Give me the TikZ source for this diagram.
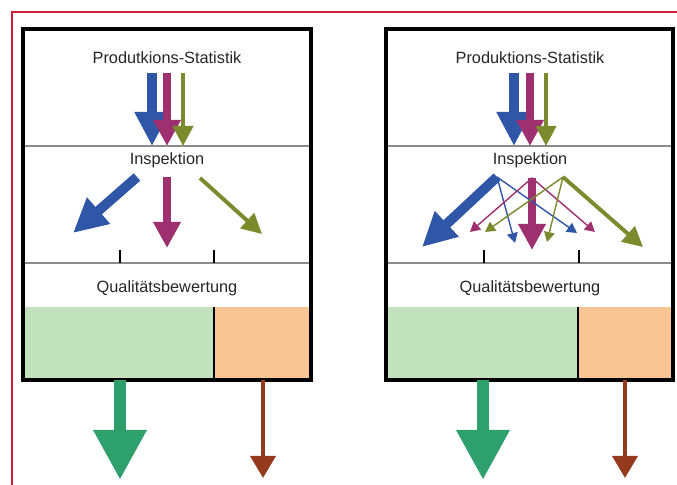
\documentclass[tikz,border=0pt]{standalone}
\usepackage{fontspec}
\setmainfont{Liberation Sans}
\usetikzlibrary{arrows.meta,positioning}

\definecolor{cblue}{RGB}{48,86,168}
\definecolor{cmag}{RGB}{158,48,112}
\definecolor{colive}{RGB}{122,138,44}
\definecolor{cgreen}{RGB}{46,160,110}
\definecolor{cbrown}{RGB}{150,58,30}
\definecolor{lgreen}{RGB}{194,226,190}
\definecolor{lorange}{RGB}{250,197,148}
\definecolor{cred}{RGB}{210,30,60}

\begin{document}
\begin{tikzpicture}[
    x=0.025cm, y=-0.025cm,
    lbl/.style={font=\fontsize{11.6}{13}\selectfont, text=black!85, inner sep=1pt},
    divider/.style={draw=black!45, line width=1.1pt},
    boxline/.style={draw=black, line width=2.2pt},
    tick/.style={draw=black, line width=1pt},
    wide/.style={line width=7pt, -{Triangle[width=0.82cm, length=0.85cm]}},
    mid/.style={line width=5pt, -{Triangle[width=0.65cm, length=0.65cm]}},
    slim/.style={line width=2.8pt, -{Triangle[width=0.5cm, length=0.5cm]}},
    hair/.style={line width=1pt, -{Triangle[width=0.27cm, length=0.25cm]}},
    outgood/.style={cgreen, line width=9pt, -{Triangle[width=1.25cm, length=1.25cm]}},
    outbad/.style={cbrown, line width=3pt, -{Triangle[width=0.62cm, length=0.55cm]}}
]
    \useasboundingbox (0,0) rectangle (677,485);
    \draw[cred, line width=1.5pt] (12,485) -- (12,12) -- (677,12);

    % left panel
    \fill[lgreen]  (23,307)  rectangle (214,380);
    \fill[lorange] (214,307) rectangle (311,380);
    \draw[line width=1pt] (214,307) -- (214,380);
    \draw[divider] (23,146) -- (311,146);
    \draw[divider] (23,263) -- (311,263);
    \draw[tick] (120,250) -- (120,263);
    \draw[tick] (214,250) -- (214,263);
    \draw[boxline] (23,29) rectangle (311,380);

    \node[lbl] (stat1) at (167,58)  {Produtkions-Statistik};
    \node[lbl] (insp1) at (167,160) {Inspektion};
    \node[lbl] (qual1) at (167,288) {Qualitätsbewertung};

    \coordinate (s1a) at (152,73);  \coordinate (t1a) at (152,146);
    \coordinate (s1b) at (167,73);  \coordinate (t1b) at (167,146);
    \coordinate (s1c) at (183,73);  \coordinate (t1c) at (183,146);
    \draw[wide, cblue]  (s1a) -- (t1a);
    \draw[mid, cmag]    (s1b) -- (t1b);
    \draw[slim, colive] (s1c) -- (t1c);

    \coordinate (o1a) at (137,177); \coordinate (d1a) at (73,233);
    \coordinate (o1b) at (167,177); \coordinate (d1b) at (167,248);
    \coordinate (o1c) at (200,178); \coordinate (d1c) at (262,234);
    \draw[wide, cblue]  (o1a) -- (d1a);
    \draw[mid, cmag]    (o1b) -- (d1b);
    \draw[slim, colive] (o1c) -- (d1c);

    \coordinate (g1) at (120,380); \coordinate (g1e) at (120,480);
    \coordinate (r1) at (263,380); \coordinate (r1e) at (263,478);
    \draw[outgood] (g1) -- (g1e);
    \draw[outbad]  (r1) -- (r1e);

    % right panel
    \fill[lgreen]  (386,307) rectangle (578,380);
    \fill[lorange] (578,307) rectangle (673,380);
    \draw[line width=1pt] (578,307) -- (578,380);
    \draw[divider] (386,146) -- (673,146);
    \draw[divider] (386,263) -- (673,263);
    \draw[tick] (484,250) -- (484,263);
    \draw[tick] (579,250) -- (579,263);
    \draw[boxline] (386,29) rectangle (673,380);

    \node[lbl] (stat2) at (530,58)  {Produktions-Statistik};
    \node[lbl] (insp2) at (530,160) {Inspektion};
    \node[lbl] (qual2) at (530,288) {Qualitätsbewertung};

    \coordinate (s2a) at (514,73);  \coordinate (t2a) at (514,146);
    \coordinate (s2b) at (530,73);  \coordinate (t2b) at (530,146);
    \coordinate (s2c) at (546,73);  \coordinate (t2c) at (546,146);
    \draw[wide, cblue]  (s2a) -- (t2a);
    \draw[mid, cmag]    (s2b) -- (t2b);
    \draw[slim, colive] (s2c) -- (t2c);

    % split flows
    \coordinate (o2a) at (497,177);
    \coordinate (o2b) at (532,178);
    \coordinate (o2c) at (563,177);
    \coordinate (d2a) at (422,247); \coordinate (d2b) at (532,250); \coordinate (d2c) at (643,247);
    \coordinate (e2a) at (515,243); \coordinate (f2a) at (577,233);
    \coordinate (e2b) at (470,232); \coordinate (f2b) at (595,232);
    \coordinate (e2c) at (485,232); \coordinate (f2c) at (547,242);
    \draw[wide, cblue]  (o2a) -- (d2a);
    \draw[mid, cmag]    (o2b) -- (d2b);
    \draw[slim, colive] (o2c) -- (d2c);
    \draw[hair, cblue]  (o2a) -- (e2a);
    \draw[hair, cblue]  (o2a) -- (f2a);
    \draw[hair, cmag]   (o2b) -- (e2b);
    \draw[hair, cmag]   (o2b) -- (f2b);
    \draw[hair, colive] (o2c) -- (e2c);
    \draw[hair, colive] (o2c) -- (f2c);

    \coordinate (g2) at (483,380); \coordinate (g2e) at (483,480);
    \coordinate (r2) at (625,380); \coordinate (r2e) at (625,478);
    \draw[outgood] (g2) -- (g2e);
    \draw[outbad]  (r2) -- (r2e);
\end{tikzpicture}
\end{document}
